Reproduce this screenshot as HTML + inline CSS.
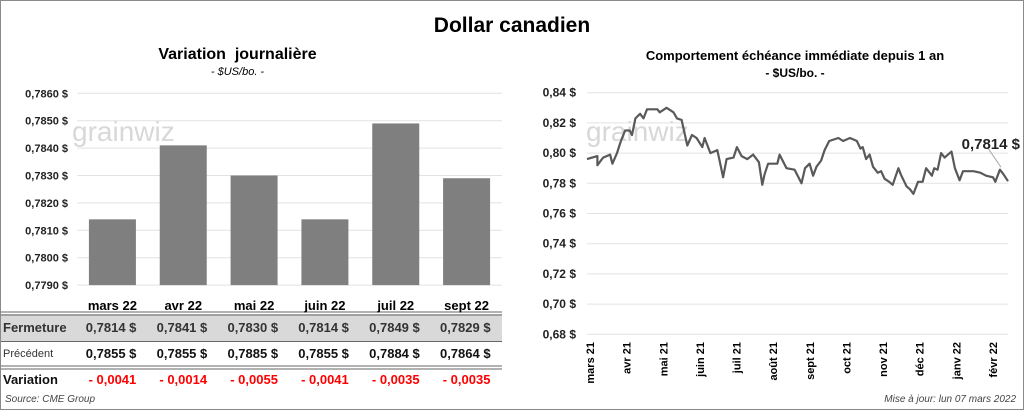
<!DOCTYPE html>
<html><head><meta charset="utf-8"><style>
body{margin:0;width:1024px;height:410px;overflow:hidden;background:#fff;font-family:"Liberation Sans",sans-serif}
#frame{position:absolute;left:0;top:0;width:1022px;height:408px;border:1px solid #8a8a8a}
.t{position:absolute;white-space:nowrap}
</style></head><body>
<div id="frame"></div>
<div class="t" style="left:0;width:1024px;text-align:center;top:14px;font-size:21px;font-weight:bold">Dollar canadien</div>
<div class="t" style="left:130px;width:215px;text-align:center;top:46px;font-size:16px;font-weight:bold">Variation&nbsp; journalière</div>
<div class="t" style="left:130px;width:215px;text-align:center;top:66px;font-size:11px;font-style:italic">- $US/bo. -</div>
<div class="t" style="left:600px;width:390px;text-align:center;top:48px;font-size:13px;font-weight:bold">Comportement échéance immédiate depuis 1 an</div>
<div class="t" style="left:600px;width:390px;text-align:center;top:66px;font-size:12px;font-weight:bold">- $US/bo. -</div>
<div class="t" style="left:5px;top:394px;font-size:10px;font-style:italic;color:#444">Source: CME Group</div>
<div class="t" style="right:8px;top:394px;font-size:10px;font-style:italic;color:#444">Mise à jour: lun 07 mars 2022</div>
<svg id="svg" width="1024" height="410" style="position:absolute;left:0;top:0"></svg>
<script>
// Left chart data
const months = ["mars 22","avr 22","mai 22","juin 22","juil 22","sept 22"];
const closes = [0.7814,0.7841,0.7830,0.7814,0.7849,0.7829];
const closeLabels = ["0,7814","0,7841","0,7830","0,7814","0,7849","0,7829"];
const prevLabels = ["0,7855","0,7855","0,7885","0,7855","0,7884","0,7864"];
const varLabels = ["- 0,0041","- 0,0014","- 0,0055","- 0,0041","- 0,0035","- 0,0035"];
const leftTicks = [0.7790,0.7800,0.7810,0.7820,0.7830,0.7840,0.7850,0.7860];
// Right chart data (day offsets from 1 mars 21, values)
const days = [0,9,9,14,20,22,26,29,33,37,39,42,46,49,52,61,63,69,75,78,82,87,91,95,100,102,107,113,115,118,121,127,130,134,139,144,149,152,154,157,165,167,173,180,186,189,193,196,199,203,206,210,218,222,228,234,237,239,242,245,248,252,255,258,262,265,270,272,277,280,283,287,291,294,299,301,304,307,310,316,319,323,326,335,341,346,352,354,358,361,365];
const prices = [0.796,0.798,0.792,0.797,0.799,0.793,0.800,0.807,0.815,0.815,0.812,0.823,0.826,0.823,0.829,0.829,0.827,0.830,0.827,0.823,0.822,0.805,0.812,0.810,0.804,0.810,0.800,0.802,0.795,0.784,0.796,0.797,0.804,0.798,0.796,0.799,0.794,0.779,0.786,0.793,0.793,0.799,0.790,0.789,0.780,0.790,0.793,0.785,0.791,0.795,0.802,0.808,0.810,0.808,0.810,0.808,0.803,0.804,0.796,0.799,0.791,0.787,0.788,0.783,0.781,0.779,0.790,0.786,0.778,0.776,0.773,0.781,0.781,0.790,0.785,0.790,0.789,0.800,0.797,0.801,0.790,0.782,0.788,0.788,0.787,0.785,0.784,0.781,0.789,0.786,0.7814];
const rightTicks = [0.68,0.70,0.72,0.74,0.76,0.78,0.80,0.82,0.84];
const rightTickLabels = ["0,68 $","0,70 $","0,72 $","0,74 $","0,76 $","0,78 $","0,80 $","0,82 $","0,84 $"];
const xMonths = ["mars 21","avr 21","mai 21","juin 21","juil 21","août 21","sept 21","oct 21","nov 21","déc 21","janv 22","févr 22"];

const svg=document.getElementById('svg');
const NS='http://www.w3.org/2000/svg';
function mk(tag,attrs,text){const e=document.createElementNS(NS,tag);for(const k in attrs)e.setAttribute(k,attrs[k]);if(text!==undefined)e.textContent=text;svg.appendChild(e);return e;}
const fmt4=v=>v.toFixed(4).replace('.',',')+' $';

// watermarks
let w=mk('text',{x:72,y:141,'font-size':28,fill:'#d8d8d8','font-family':'Liberation Sans'},'grainwiz');


w=mk('text',{x:586,y:141,'font-size':28,fill:'#d8d8d8','font-family':'Liberation Sans'},'grainwiz');



// Left chart axes
const lx0=77,lx1=502,ly=v=>93.3+(0.7860-v)/0.001*27.4;
const catW=(lx1-lx0)/months.length;
leftTicks.forEach(v=>{
  let g=mk('line',{x1:lx0,x2:lx1,y1:ly(v),y2:ly(v),stroke:'#e2e2e2','stroke-width':1});
  
  
  let t=mk('text',{x:68,y:ly(v)+4,'text-anchor':'end','font-size':11,'font-weight':'bold',fill:'#222'},fmt4(v));
  
  
});
months.forEach((m,i)=>{
  const cx=lx0+catW*(i+0.5);
  let b=mk('rect',{x:cx-23.5,y:ly(closes[i]),width:47,height:ly(0.7790)-ly(closes[i]),fill:'#7f7f7f'});
  
  
});
// table
let r=mk('rect',{x:1,y:314,width:501,height:27,fill:'#d9d9d9'});


[[312,1],[315,1],[341.5,1],[366,1],[369,1]].forEach(([y,s])=>{
  let l=mk('line',{x1:1,x2:502,y1:y,y2:y,stroke:'#666','stroke-width':s});
  
  
});
[['Fermeture',332,13,'bold','#333'],['Précédent',357,11,'normal','#333'],['Variation',384,13,'bold','#111']].forEach(([s,y,fs,fw,c])=>{
  let t=mk('text',{x:3,y:y,'font-size':fs,'font-weight':fw,fill:c},s);
  
  
});
months.forEach((m,i)=>{
  const cx=lx0+catW*(i+0.5);
  let t=mk('text',{x:cx,y:310,'text-anchor':'middle','font-size':13,'font-weight':'bold'},m);
  
  
  t=mk('text',{x:cx+24,y:332,'text-anchor':'end','font-size':13,'font-weight':'bold',fill:'#333'},closeLabels[i]+'  $');
  t.setAttribute('xml:space','preserve');
  
  
  t=mk('text',{x:cx+24,y:358,'text-anchor':'end','font-size':13,'font-weight':'bold',fill:'#111'},prevLabels[i]+'  $');
  t.setAttribute('xml:space','preserve');
  
  
  t=mk('text',{x:cx,y:384,'text-anchor':'middle','font-size':13,'font-weight':'bold',fill:'#ff0000'},varLabels[i]);
  
  
});

// Right chart
const rx0=587,rx1=1008,ry=v=>92.7+(0.84-v)/0.02*30.2;
const rxd=d=>rx0+d/365*(rx1-rx0);
rightTicks.forEach((v,i)=>{
  let g=mk('line',{x1:rx0,x2:rx1,y1:ry(v),y2:ry(v),stroke:'#e2e2e2','stroke-width':1});
  
  
  let t=mk('text',{x:576,y:ry(v)+4,'text-anchor':'end','font-size':12,'font-weight':'bold',fill:'#222'},rightTickLabels[i]);
  
  
});
const labStep=403/(xMonths.length-1);
xMonths.forEach((m,i)=>{
  const x=590+i*labStep+4;
  let t=mk('text',{x:x,y:342,'text-anchor':'end','font-size':11,'font-weight':'bold',transform:`rotate(-90 ${x} 342)`},m);
  
  
});
const n=Math.min(days.length,prices.length);
let pts=[];for(let i=0;i<n;i++)pts.push(rxd(days[i]).toFixed(1)+','+ry(prices[i]).toFixed(1));
let pl=mk('polyline',{points:pts.join(' '),fill:'none',stroke:'#595959','stroke-width':2.2,'stroke-linejoin':'round'});


const lastX=rxd(days[n-1]),lastY=ry(prices[n-1]);
let ll=mk('line',{x1:lastX-7,y1:lastY-14,x2:lastX-20,y2:lastY-33,stroke:'#aaa','stroke-width':1});


let an=mk('text',{x:1020,y:149,'text-anchor':'end','font-size':15,'font-weight':'bold',fill:'#222'},fmt4(prices[n-1]));


</script>
</body></html>
